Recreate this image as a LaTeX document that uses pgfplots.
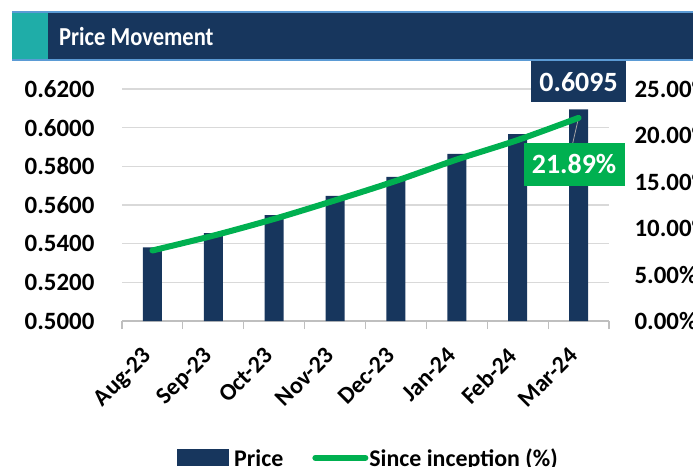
\documentclass[border=0pt]{standalone}
\usepackage{fontspec}
\setmainfont{Carlito}
\usepackage{pgfplots}
\pgfplotsset{compat=1.18}

\definecolor{navy}{HTML}{17365D}
\definecolor{tealbox}{HTML}{1FADA8}
\definecolor{rulecol}{HTML}{5B9BD5}
\definecolor{lgreen}{HTML}{00B050}
\definecolor{gridgray}{HTML}{D9D9D9}
\definecolor{axisgray}{HTML}{BFBFBF}

\newcommand{\tickfont}{\bfseries\fontsize{25}{27}\selectfont}
\newcommand{\xfont}{\bfseries\fontsize{24}{26}\selectfont}
\newcommand{\labfont}{\bfseries\fontsize{28}{30}\selectfont}

\begin{document}
\begin{tikzpicture}
\path[use as bounding box] (0bp,0bp) rectangle (693bp,-467bp);

% title banner
\fill[navy] (48bp,-13bp) rectangle (700bp,-59bp);
\fill[tealbox] (12bp,-13bp) rectangle (48bp,-59bp);
\draw[rulecol, line width=1.5bp] (12bp,-12bp) -- (700bp,-12bp);
\draw[rulecol, line width=1.5bp] (12bp,-60bp) -- (700bp,-60bp);
\node[anchor=west, text=white, inner sep=0pt, xscale=0.87, font=\bfseries\fontsize{26}{28}\selectfont] at (59bp,-37bp) {Price Movement};

% price bars (left axis)
\begin{axis}[
  at={(122bp,-321bp)}, anchor=south west,
  scale only axis, width=487bp, height=232bp,
  xmin=-0.5, xmax=7.5, ymin=0.5, ymax=0.62,
  clip mode=individual,
  axis x line*=bottom, axis y line*=left,
  x axis line style={draw=axisgray, line width=1.2bp, -},
  y axis line style={draw=none},
  xtick={0,...,7},
  xticklabels={Aug-23,Sep-23,Oct-23,Nov-23,Dec-23,Jan-24,Feb-24,Mar-24},
  minor xtick={-0.5,0.5,1.5,2.5,3.5,4.5,5.5,6.5,7.5},
  tick align=outside,
  major tick length=0pt,
  minor tick length=8bp,
  minor tick style={draw=axisgray, line width=1.2bp},
  ytick={0.50,0.52,0.54,0.56,0.58,0.60,0.62},
  ymajorgrids,
  major grid style={draw=gridgray, line width=1.3bp},
  /pgf/number format/assume math mode=true,
  y tick label style={/pgf/number format/fixed, /pgf/number format/fixed zerofill, /pgf/number format/precision=4},
  yticklabel style={font=\tickfont, xshift=-24bp},
  xticklabel style={font=\xfont, xshift=-11bp, yshift=-25bp, rotate=45, anchor=north east, inner sep=0pt},
  legend style={at={(0.113,-0.59)}, anchor=west, draw=none, fill=none,
    inner sep=0pt, font=\xfont, legend columns=2,
    nodes={inner sep=1bp, text depth=0pt},
    /tikz/every even column/.append style={column sep=28bp}},
]
\addplot[ybar, bar width=19bp, bar shift=0pt, fill=navy, draw=none,
  legend image code/.code={\fill[navy] (0bp,-8bp) rectangle (52bp,9bp); \path (56bp,0bp);}]
  coordinates {(0,0.5381) (1,0.5454) (2,0.5548) (3,0.5647) (4,0.5745) (5,0.5864) (6,0.5966) (7,0.6095)};
\addlegendentry{Price}
\addlegendimage{legend image code/.code={\draw[lgreen, line width=6bp, line cap=round] (3bp,0bp) -- (53bp,0bp); \path (55bp,0bp);}}
\addlegendentry{Since inception (\%)}
\node[fill=navy, text=white, font=\labfont, minimum width=95bp, minimum height=41bp,
  inner sep=0pt, anchor=south, yshift=7bp] at (axis cs:7,0.6095) {0.6095};
\end{axis}

% since inception line (right axis)
\begin{axis}[
  at={(122bp,-321bp)}, anchor=south west,
  scale only axis, width=487bp, height=232bp,
  xmin=-0.5, xmax=7.5, ymin=0, ymax=25,
  clip mode=individual,
  axis x line=none, axis y line*=right,
  y axis line style={draw=none},
  ytick={0,5,10,15,20,25},
  yticklabels={0.00\%,5.00\%,10.00\%,15.00\%,20.00\%,25.00\%},
  major tick length=0pt,
  yticklabel style={font=\tickfont, xshift=22bp},
]
\draw[gray!70, line width=0.8bp] (axis cs:7,21.89) -- ++(-6bp,-26bp);
\addplot[lgreen, line width=6bp, line cap=round, smooth, tension=0.5]
  coordinates {(0,7.6) (1,9.2) (2,11.0) (3,13.0) (4,15.1) (5,17.4) (6,19.5) (7,21.89)};
\node[fill=lgreen, text=white, font=\labfont, minimum width=101bp, minimum height=43bp,
  inner sep=0pt, xshift=-4.5bp, yshift=-46.5bp] at (axis cs:7,21.89) {21.89\%};
\end{axis}
\end{tikzpicture}
\end{document}
